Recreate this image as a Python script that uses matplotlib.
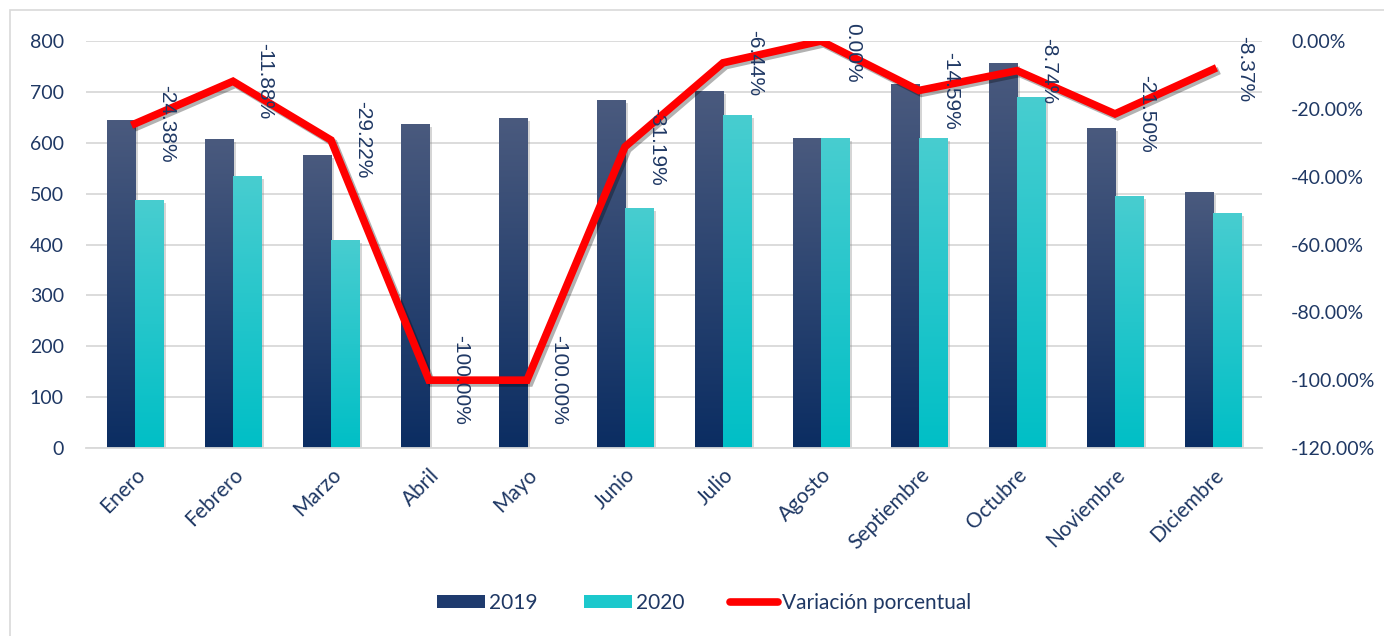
import numpy as np
import matplotlib
matplotlib.use("Agg")
import matplotlib.pyplot as plt
import matplotlib.patheffects as pe
from matplotlib.colors import LinearSegmentedColormap
from matplotlib.patches import Patch, Rectangle
from matplotlib.lines import Line2D

# Datos
meses = ['Enero', 'Febrero', 'Marzo', 'Abril', 'Mayo', 'Junio', 'Julio',
         'Agosto', 'Septiembre', 'Octubre', 'Noviembre', 'Diciembre']
valores_2019 = [644, 607, 576, 637, 648, 684, 701, 609, 715, 756, 629, 503]
valores_2020 = [487, 534, 409, 0, 0, 472, 654, 609, 609, 690, 495, 462]
variacion = [-24.38, -11.88, -29.22, -100.00, -100.00, -31.19, -6.44,
             0.00, -14.59, -8.74, -21.50, -8.37]
ticks_pct = [-120, -100, -80, -60, -40, -20, 0]

texto = '#1F3864'
fuente = 'Lato'

fig = plt.figure(figsize=(13.84, 6.36), dpi=100)
ax = fig.add_axes([86 / 1384, 1 - 448 / 636, 1176 / 1384, 407 / 636])
ax2 = ax.twinx()

x = np.arange(len(meses))
ancho = 0.29

cmap19 = LinearSegmentedColormap.from_list('c19', ['#0B2D62', '#4A5A7E'])
cmap20 = LinearSegmentedColormap.from_list('c20', ['#00BFC6', '#48CDD0'])
grad = np.linspace(0, 1, 256).reshape(-1, 1)

sombra = [pe.SimplePatchShadow(offset=(2, -2), shadow_rgbFace='#888888', alpha=0.35), pe.Normal()]

for serie, desp, cmap, base in [(valores_2019, -ancho / 2, cmap19, '#0B2D62'),
                                (valores_2020, ancho / 2, cmap20, '#00BFC6')]:
    barras = ax.bar(x + desp, serie, ancho, color=base, zorder=2)
    for b in barras:
        if b.get_height() <= 0:
            continue
        b.set_path_effects(sombra)
        x0 = b.get_x()
        im = ax.imshow(grad, extent=[x0, x0 + b.get_width(), 0, b.get_height()],
                       origin='lower', aspect='auto', cmap=cmap, zorder=2.1)
        im.set_clip_path(b)

ax.set_xlim(-0.5, len(meses) - 0.5)
ax.set_ylim(0, 800)
ax.set_yticks(range(0, 801, 100))
ax.set_xticks(x)
ax.set_xticklabels(meses, rotation=45, ha='right', rotation_mode='anchor')
ax.yaxis.grid(True, color='#D9D9D9', linewidth=1.3)
ax.set_axisbelow(True)
for s in ['top', 'right', 'left']:
    ax.spines[s].set_visible(False)
ax.spines['bottom'].set_color('#D9D9D9')
ax.spines['bottom'].set_linewidth(1.3)
ax.tick_params(axis='both', length=0, colors=texto, labelsize=14)
ax.tick_params(axis='x', labelsize=15, pad=12)
ax.tick_params(axis='y', pad=16)

# Línea de variación porcentual
var = np.array(variacion) / 100
ax2.plot(x, var, color='#FF0000', linewidth=5.5, solid_joinstyle='miter',
         path_effects=[pe.SimpleLineShadow(offset=(2, -2), alpha=0.3), pe.Normal()])
for xi, v, etiqueta in zip(x, var, variacion):
    dy = -12 if v > -0.03 else 0  # etiqueta dentro del área del gráfico
    ax2.annotate('{:.2f}%'.format(etiqueta), (xi, v), xytext=(32, dy),
                 textcoords='offset pixels', rotation=270, ha='center', va='center',
                 fontsize=15, color=texto, family='Liberation Sans')
ax2.set_ylim(-1.2, 0)
ax2.set_yticks([t / 100 for t in ticks_pct])
ax2.set_yticklabels(['{:.2f}%'.format(t) for t in ticks_pct])
for s in ax2.spines.values():
    s.set_visible(False)
ax2.tick_params(axis='y', length=0, colors=texto, labelsize=14, pad=21)

for a in (ax, ax2):
    for lbl in a.get_xticklabels() + a.get_yticklabels():
        lbl.set_family(fuente)

# Leyenda
handles = [Patch(facecolor='#1F3B6E'), Patch(facecolor='#1CC8CC'),
           Line2D([0], [0], color='#FF0000', linewidth=5.5, solid_capstyle='round')]
fig.legend(handles, ['2019', '2020', 'Variación porcentual'], loc='center',
           bbox_to_anchor=(0.509, 1 - 603 / 636), ncol=3, frameon=False,
           prop={'family': fuente, 'size': 15}, labelcolor=texto,
           handlelength=2.3, handleheight=0.55, handletextpad=0.2, columnspacing=2.2)

# Borde del gráfico
fig.patches.append(Rectangle((10 / 1384, -0.1), 1.2, 1.1 - 10 / 636, transform=fig.transFigure,
                             fill=False, edgecolor='#D9D9D9', linewidth=1.2))

fig.savefig('out.png', dpi=100)
